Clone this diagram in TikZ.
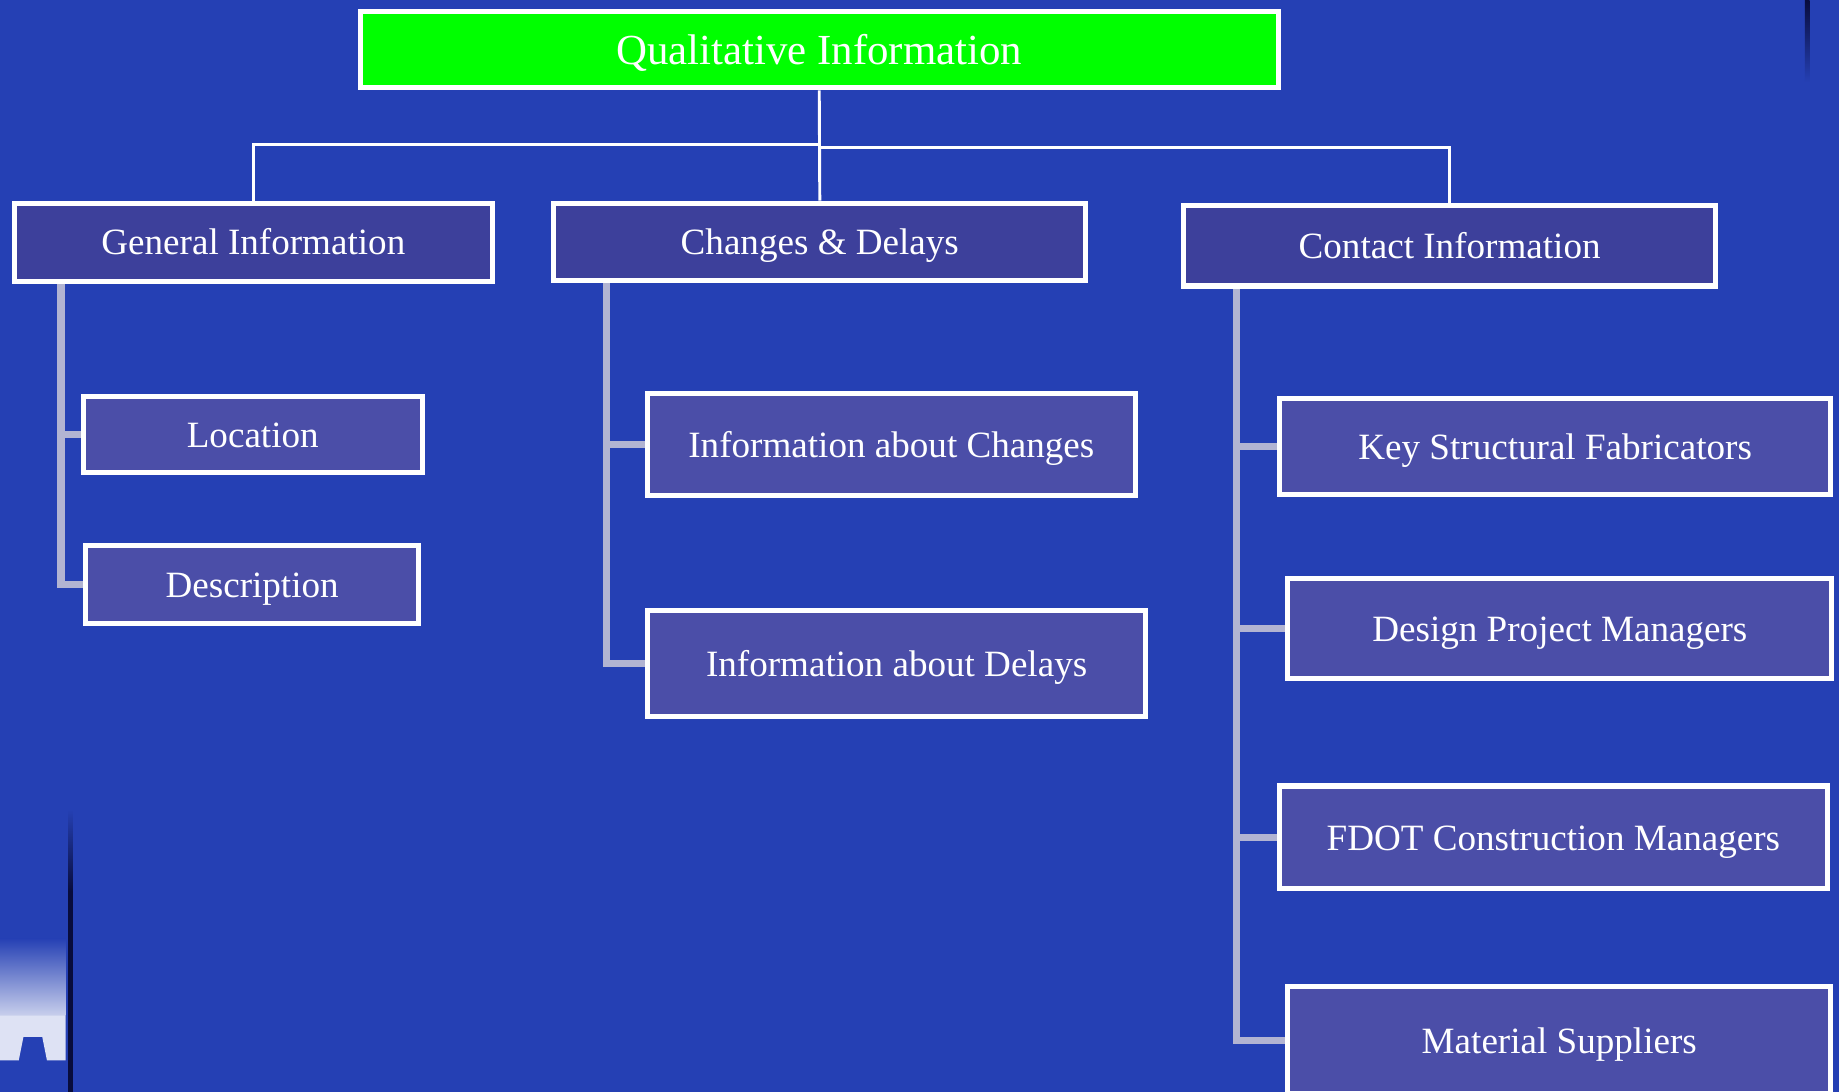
\documentclass[tikz,border=0pt]{standalone}
\usepackage{fontspec}
\setmainfont{Liberation Serif}
\usetikzlibrary{calc}
\definecolor{bgblue}{RGB}{37,64,180}
\definecolor{lvlone}{RGB}{61,64,155}
\definecolor{lvltwo}{RGB}{75,78,168}
\definecolor{subgray}{RGB}{178,180,210}
\definecolor{topgreen}{RGB}{0,255,0}
\definecolor{darkline}{RGB}{8,12,60}
\pgfdeclarelayer{back}
\pgfdeclarelayer{wires}
\pgfsetlayers{back,wires,main}
\tikzset{
  infobox/.style 2 args={draw=white, line width=0.43mm, text=white, inner sep=0pt,
    minimum width=#1mm, minimum height=#2mm, text height=6.2pt, text depth=0pt,
    font=\fontsize{9pt}{11pt}\selectfont},
  headbox/.style={fill=lvlone},
  itembox/.style={fill=lvltwo},
  topline/.style={draw=white, line width=0.25mm},
  subline/.style={draw=subgray, line width=0.6mm},
}

\begin{document}
\begin{tikzpicture}[x=0.1mm, y=-0.1mm]
      \begin{pgfonlayer}{back}
      \fill[bgblue] (0,0) rectangle (1568,931);
      % slide decoration
      \shade[top color=bgblue, bottom color=darkline] (58,690) rectangle (62,760);
      \fill[darkline] (58,760) rectangle (62,931);
      \shade[top color=darkline, bottom color=bgblue] (1539,0) rectangle (1543,70);
      \shade[top color=bgblue, bottom color=white!75!bgblue] (0,800) rectangle (56,866);
      \fill[white!85!bgblue] (0,866) -- (56,866) -- (56,904) -- (40,904) -- (36,884) -- (20,884) -- (16,904) -- (0,904) -- cycle;
      \end{pgfonlayer}
      \useasboundingbox (0,0) rectangle (1568,931);

      \node[infobox={78.27}{6.47}, fill=topgreen, text height=7.2pt,
        font=\fontsize{10.4pt}{12pt}\selectfont] (top) at (698.5,42.5) {Qualitative Information};

      \node[infobox={40.77}{6.67}, headbox] (gen) at (216,206.5) {General Information};
      \node[infobox={45.37}{6.57}, headbox] (chg) at (699,206) {Changes \& Delays};
      \node[infobox={45.37}{6.87}, headbox] (con) at (1236,209.5) {Contact Information};

      \node[infobox={28.87}{6.47}, itembox] (loc) at (215.5,370.5) {Location};
      \node[infobox={28.37}{6.67}, itembox] (desc) at (215,498.5) {Description};

      \node[infobox={41.57}{8.77}, itembox] (infc) at (760,379) {Information about Changes};
      \node[infobox={42.47}{9.07}, itembox] (infd) at (764.5,565.5) {Information about Delays};

      \node[infobox={46.97}{8.17}, itembox] (key) at (1326,381) {Key Structural Fabricators};
      \node[infobox={46.37}{8.57}, itembox] (dpm) at (1330,536) {Design Project Managers};
      \node[infobox={46.67}{8.77}, itembox] (fdot) at (1324.5,714) {FDOT Construction Managers};
      \node[infobox={46.27}{9.13}, itembox] (mat) at (1329.5,887) {Material Suppliers};

      \coordinate (genbus) at (52,242);
      \coordinate (chgbus) at (517,241);
      \coordinate (conbus) at (1054,246);

      \begin{pgfonlayer}{wires}
      \draw[topline] (top.south) -- (chg.north);
      \draw[topline] (top.south |- 0,123) -| (gen.north);
      \draw[topline] (top.south |- 0,126) -| (con.north);

      \draw[subline] (genbus) |- (desc.west);
      \draw[subline] (genbus |- loc.west) -- (loc.west);

      \draw[subline] (chgbus) |- (infd.west);
      \draw[subline] (chgbus |- infc.west) -- (infc.west);

      \draw[subline] (conbus) |- (mat.west);
      \foreach \n in {key,dpm,fdot}{
        \draw[subline] (conbus |- \n.west) -- (\n.west);
      }
      \end{pgfonlayer}
\end{tikzpicture}
\end{document}
